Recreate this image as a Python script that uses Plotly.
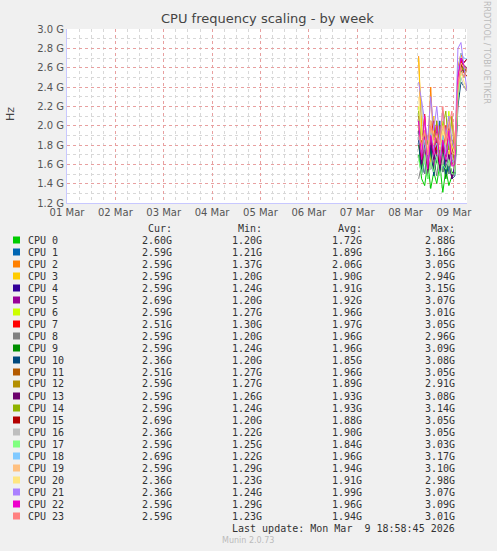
import plotly.graph_objects as go
from datetime import datetime, timedelta

start = datetime(2026, 3, 8, 6, 30)
times = [start + timedelta(minutes=90 * i) for i in range(17)]

names = [f"CPU {i}" for i in range(24)]
colors = ["#00CC00", "#0066B3", "#FF8000", "#FFCC00", "#330099", "#990099", "#CCFF00", "#FF0000",
          "#808080", "#008F00", "#00487D", "#B35A00", "#B38F00", "#6B006B", "#8FB300", "#B30000",
          "#BEBEBE", "#80FF80", "#80C9FF", "#FFC080", "#FFE680", "#AA80FF", "#EE00CC", "#FF8080"]

v0 = [1.70, 1.45, 1.38, 1.62, 1.35, 1.52, 1.40, 1.60, 1.31, 1.55, 1.38, 1.48, 1.52, 2.30, 2.55, 2.62, 2.60]
v1 = [1.95, 1.60, 1.50, 1.85, 1.55, 1.72, 1.62, 2.05, 1.52, 1.80, 1.50, 1.70, 1.55, 2.45, 2.70, 2.58, 2.59]
v2 = [2.72, 1.80, 1.95, 1.70, 2.40, 1.75, 2.05, 1.62, 1.90, 1.68, 2.05, 1.60, 1.72, 2.60, 2.75, 2.62, 2.59]
v3 = [2.70, 2.00, 1.65, 1.90, 1.60, 2.10, 1.75, 1.95, 1.70, 2.00, 1.65, 2.10, 1.84, 2.50, 2.65, 2.55, 2.59]
v4 = [1.90, 1.55, 1.75, 1.48, 1.80, 1.60, 1.95, 1.50, 1.85, 1.55, 1.70, 1.45, 1.60, 2.40, 2.62, 2.60, 2.59]
v5 = [2.05, 1.70, 1.90, 1.60, 2.00, 1.55, 1.85, 1.75, 1.62, 1.95, 1.58, 1.80, 1.55, 2.55, 2.70, 2.65, 2.69]
v6 = [2.20, 1.85, 2.10, 1.70, 1.95, 1.80, 2.00, 1.65, 2.05, 1.75, 2.15, 1.70, 1.62, 2.35, 2.60, 2.55, 2.59]
v7 = [2.00, 1.75, 2.12, 1.65, 1.90, 2.05, 1.70, 1.95, 1.60, 2.00, 1.75, 1.85, 1.62, 2.50, 2.68, 2.55, 2.51]
v8 = [1.45, 1.60, 1.50, 1.70, 1.55, 1.65, 1.48, 1.75, 1.52, 1.60, 1.50, 1.68, 1.52, 2.30, 2.55, 2.50, 2.59]
v9 = [1.80, 1.55, 1.70, 1.45, 1.75, 1.50, 1.65, 1.58, 1.70, 1.45, 1.62, 1.52, 1.50, 2.42, 2.60, 2.56, 2.59]
v10 = [1.85, 1.50, 1.65, 1.55, 1.80, 1.48, 1.70, 1.60, 1.75, 1.50, 1.65, 1.45, 1.48, 2.20, 2.45, 2.40, 2.36]
v11 = [2.10, 1.80, 1.95, 1.70, 2.05, 1.85, 1.75, 2.00, 1.72, 1.90, 2.05, 1.80, 1.70, 2.45, 2.65, 2.55, 2.51]
v12 = [2.00, 1.70, 1.85, 1.60, 1.95, 1.75, 1.88, 1.65, 1.90, 1.70, 2.00, 1.85, 1.60, 2.35, 2.60, 2.55, 2.59]
v13 = [1.95, 1.60, 1.80, 1.50, 1.85, 1.65, 1.75, 1.55, 1.80, 1.62, 1.70, 1.45, 1.55, 2.40, 2.58, 2.56, 2.59]
v14 = [2.15, 1.75, 1.95, 1.65, 1.90, 1.80, 2.05, 1.70, 2.00, 2.15, 1.75, 2.10, 1.60, 2.35, 2.60, 2.58, 2.59]
v15 = [1.90, 1.65, 1.85, 1.55, 1.95, 1.70, 1.80, 1.60, 1.85, 1.68, 2.05, 1.65, 1.55, 2.45, 2.62, 2.65, 2.69]
v16 = [1.85, 2.25, 1.60, 1.80, 1.55, 1.75, 1.65, 1.90, 1.60, 1.80, 1.58, 1.70, 1.52, 2.30, 2.50, 2.40, 2.36]
v17 = [1.65, 1.50, 1.70, 1.45, 1.62, 1.52, 1.68, 1.48, 1.60, 1.55, 1.65, 1.50, 1.50, 2.28, 2.55, 2.50, 2.59]
v18 = [1.90, 1.70, 1.85, 1.60, 1.95, 1.75, 1.82, 1.65, 1.90, 1.70, 1.85, 1.62, 1.65, 2.55, 2.75, 2.70, 2.69]
v19 = [2.00, 1.75, 1.95, 1.70, 2.05, 1.80, 1.90, 1.75, 2.00, 1.80, 1.95, 1.72, 1.70, 2.45, 2.65, 2.60, 2.59]
v20 = [2.30, 1.85, 1.95, 1.75, 2.00, 1.82, 1.90, 1.78, 1.95, 1.85, 2.05, 1.80, 1.70, 2.40, 2.55, 2.45, 2.36]
v21 = [2.45, 2.25, 2.05, 1.85, 2.30, 1.95, 2.20, 1.85, 2.15, 1.90, 2.10, 1.85, 1.75, 2.80, 2.86, 2.60, 2.36]
v22 = [2.05, 1.65, 2.10, 1.55, 1.90, 1.70, 2.00, 1.60, 1.85, 1.65, 1.95, 1.58, 1.60, 2.50, 2.70, 2.62, 2.59]
v23 = [1.90, 1.80, 1.95, 1.70, 2.00, 1.85, 1.92, 1.80, 2.20, 1.85, 2.00, 2.15, 1.75, 2.40, 2.60, 2.50, 2.59]
series = [v0, v1, v2, v3, v4, v5, v6, v7, v8, v9, v10, v11, v12, v13, v14, v15, v16, v17, v18, v19, v20, v21, v22, v23]

cur = ["2.60G", "2.59G", "2.59G", "2.59G", "2.59G", "2.69G", "2.59G", "2.51G", "2.59G", "2.59G", "2.36G", "2.51G",
       "2.59G", "2.59G", "2.59G", "2.69G", "2.36G", "2.59G", "2.69G", "2.59G", "2.36G", "2.36G", "2.59G", "2.59G"]
mins = ["1.20G", "1.21G", "1.37G", "1.20G", "1.24G", "1.20G", "1.27G", "1.30G", "1.20G", "1.24G", "1.20G", "1.27G",
        "1.27G", "1.26G", "1.24G", "1.20G", "1.22G", "1.25G", "1.22G", "1.29G", "1.23G", "1.24G", "1.29G", "1.23G"]
avgs = ["1.72G", "1.89G", "2.06G", "1.90G", "1.91G", "1.92G", "1.96G", "1.97G", "1.96G", "1.96G", "1.85G", "1.96G",
        "1.89G", "1.93G", "1.93G", "1.88G", "1.90G", "1.84G", "1.96G", "1.94G", "1.91G", "1.99G", "1.96G", "1.94G"]
maxs = ["2.88G", "3.16G", "3.05G", "2.94G", "3.15G", "3.07G", "3.01G", "3.05G", "2.96G", "3.09G", "3.08G", "3.05G",
        "2.91G", "3.08G", "3.14G", "3.05G", "3.05G", "3.03G", "3.17G", "3.10G", "2.98G", "3.07G", "3.09G", "3.01G"]

L, R, T, B = 67, 467, 29, 203
W, H = 497, 551
def px(x): return (x - L) / (R - L)
def py(y): return (B - y) / (B - T)

fig = go.Figure()
for n, c, v in zip(names, colors, series):
    fig.add_trace(go.Scatter(x=times, y=[s * 1e9 for s in v], mode="lines", name=n,
                             line=dict(color=c, width=1), showlegend=False))

mono = "DejaVu Sans Mono"
ann = []
def txt(x, y, s, anchor="left", size=10, color="#333333", fam=mono, **kw):
    ann.append(dict(x=px(x), y=py(y), xref="paper", yref="paper", text=s, showarrow=False,
                    xanchor=anchor, yanchor="middle", font=dict(family=fam, size=size, color=color), **kw))

txt(267, 19, "CPU frequency scaling - by week", "center", 13, "#444444", "DejaVu Sans")
txt(10, 114, "Hz", "center", 11, "#444444", "DejaVu Sans", textangle=-90)
txt(487, 52, "RRDTOOL / TOBI OETIKER", "center", 8, "#BBBBBB", "DejaVu Sans", textangle=90)
for h, xx in zip(["Cur:", "Min:", "Avg:", "Max:"], [174, 264, 364, 457]):
    txt(xx, 228, h, "right")
shapes = []
for i in range(24):
    y = 240 + i * 12.0
    shapes.append(dict(type="rect", xref="paper", yref="paper", x0=px(13), x1=px(20), y0=py(y + 3.5), y1=py(y - 3.5),
                       fillcolor=colors[i], line=dict(width=0)))
    txt(26, y, names[i])
    for s, xx in zip([cur[i], mins[i], avgs[i], maxs[i]], [174, 264, 364, 457]):
        txt(xx, y, s, "right")
txt(457, 528, "Last update: Mon Mar  9 18:58:45 2026", "right")
txt(248, 540, "Munin 2.0.73", "center", 8, "#BBBBBB", "DejaVu Sans")

axfont = dict(family="DejaVu Sans", size=10, color="#555555")
fig.update_layout(
    width=W, height=H, margin=dict(l=L, r=W - R, t=T, b=H - B, autoexpand=False),
    paper_bgcolor="#F0F0F0", plot_bgcolor="#FFFFFF", annotations=ann, shapes=shapes,
    xaxis=dict(range=[datetime(2026, 3, 1), datetime(2026, 3, 9, 6, 30)], type="date",
               tickvals=[datetime(2026, 3, d) for d in range(1, 10)],
               ticktext=[f"{d:02d} Mar" for d in range(1, 10)], tickfont=axfont,
               showgrid=True, gridcolor="#E8A0A0", griddash="dot", gridwidth=1,
               minor=dict(dtick=6 * 3600 * 1000, showgrid=True, gridcolor="#D8D8D8", griddash="dot"),
               showline=True, linecolor="#C8C8FF", zeroline=False, ticks=""),
    yaxis=dict(range=[1.2e9, 3.0e9], tickvals=[1.2e9 + 0.2e9 * i for i in range(10)],
               ticktext=[f"{1.2 + 0.2 * i:.1f} G" for i in range(10)], tickfont=axfont,
               showgrid=True, gridcolor="#E8A0A0", griddash="dot",
               minor=dict(dtick=0.1e9, showgrid=True, gridcolor="#D8D8D8", griddash="dot"),
               showline=True, linecolor="#C8C8FF", zeroline=False, ticks=""),
)
fig.write_html("out.html", config={"displayModeBar": False},
               post_script="document.body.style.margin='0';document.body.style.overflow='hidden';")
